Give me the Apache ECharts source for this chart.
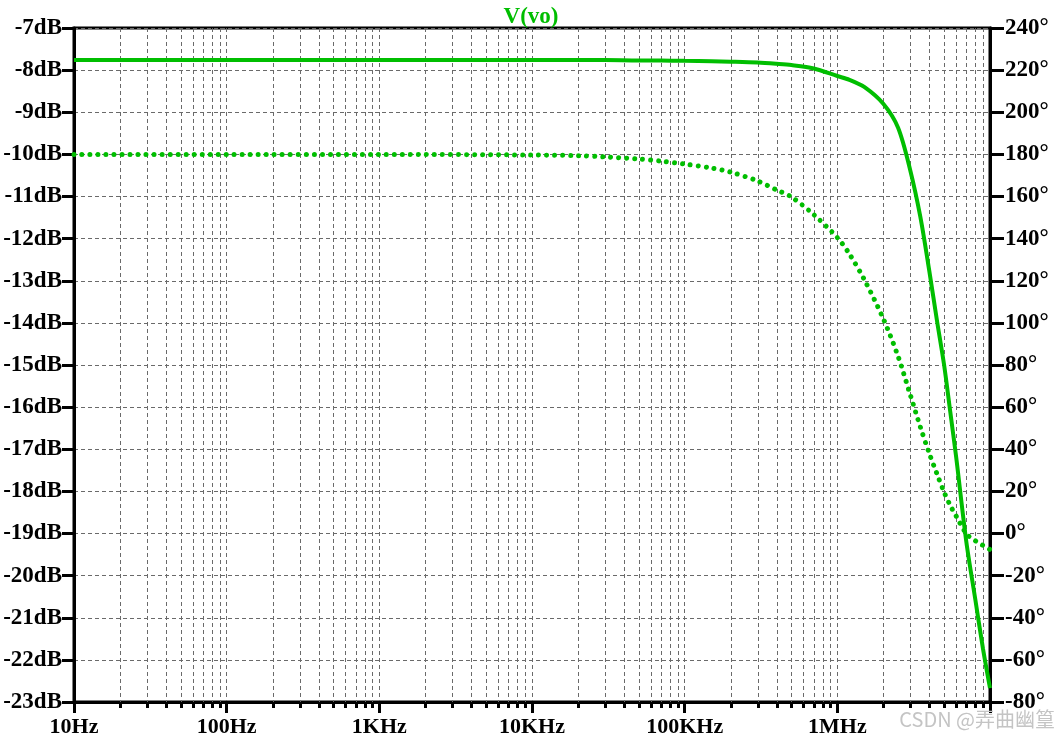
<!DOCTYPE html>
<html>
<head>
<meta charset="utf-8">
<script src="https://cdn.jsdelivr.net/npm/echarts@6/dist/echarts.min.js"></script>
<style>
html,body{margin:0;padding:0;background:#fff;}
#chart{width:1062px;height:743px;}
</style>
</head>
<body>
<div id="chart"></div>
<script>
// ---- data ----
const titleText = 'V(vo)';
const freqHz = [10, 100, 1000, 10000, 20000, 30000, 50000, 70000, 100000, 150000, 200000, 300000, 400000, 500000, 700000, 1000000, 1200000, 1500000, 2000000, 2500000, 3000000, 3500000, 4000000, 4500000, 5000000, 5500000, 6000000, 7000000, 8000000, 9000000, 10000000];
const magDb = [-7.76, -7.76, -7.76, -7.76, -7.76, -7.76, -7.77, -7.77, -7.78, -7.79, -7.80, -7.82, -7.85, -7.88, -7.96, -8.14, -8.23, -8.40, -8.80, -9.37, -10.37, -11.49, -12.76, -13.96, -14.99, -16.13, -17.18, -19.20, -20.55, -21.74, -22.67];
const phaseDeg = [180, 180, 180, 179.7, 179.4, 178.8, 177.8, 176.8, 175.4, 173.5, 171.6, 167.4, 163.1, 159.8, 151.4, 140.5, 132.7, 120.6, 102.0, 84.1, 66.0, 50.5, 38.1, 28.2, 19.7, 13.2, 8.3, -0.1, -3.4, -5.7, -7.6];
const xTickLabels = ['10Hz', '100Hz', '1KHz', '10KHz', '100KHz', '1MHz', ''];
const minorGridHz = [
  20,30,40,50,60,70,80,90,
  200,300,400,500,600,700,800,900,
  2000,3000,4000,5000,6000,7000,8000,9000,
  20000,30000,40000,50000,60000,70000,80000,90000,
  200000,300000,400000,500000,600000,700000,800000,900000,
  2000000,3000000,4000000,5000000,6000000,7000000,8000000,9000000
];
const watermark = 'CSDN @弄曲幽篁';

// ---- chart ----
const green = '#00BE00';
const font = "'Liberation Serif', 'Times New Roman', serif";
const gridDash = {color: '#6a6a6a', width: 1, type: [4, 3]};
const chart = echarts.init(document.getElementById('chart'), null, {renderer: 'canvas'});

const magData = freqHz.map((f, i) => [f, magDb[i]]);
const phaseData = freqHz.map((f, i) => [f, phaseDeg[i]]);

chart.setOption({
  animation: false,
  backgroundColor: '#fff',
  title: {
    text: titleText, left: 'center', top: 1,
    textStyle: {color: green, fontFamily: font, fontWeight: 'bold', fontSize: 23}
  },
  grid: {left: 74, right: 72, top: 28, bottom: 41, show: true, borderColor: '#000', borderWidth: 3, backgroundColor: 'transparent'},
  xAxis: {
    type: 'log', logBase: 10, min: 10, max: 10000000, splitNumber: 6,
    axisLine: {show: true, onZero: false, lineStyle: {color: '#000', width: 3}},
    axisTick: {show: true, inside: false, length: 11, lineStyle: {color: '#000', width: 3}},
    axisLabel: {
      margin: 14, color: '#000', fontFamily: font, fontWeight: 'bold', fontSize: 22,
      formatter: v => { const k = Math.round(Math.log10(v)) - 1; return xTickLabels[k] || ''; }
    },
    splitLine: {show: true, lineStyle: gridDash},
    minorTick: {show: false}
  },
  yAxis: [
    {
      type: 'value', min: -23, max: -7, interval: 1, position: 'left',
      axisLine: {show: true, onZero: false, lineStyle: {color: '#000', width: 3}},
      axisTick: {show: true, length: 12, lineStyle: {color: '#000', width: 3}},
      axisLabel: {margin: 12, color: '#000', fontFamily: font, fontWeight: 'bold', fontSize: 23, formatter: v => v + 'dB'},
      splitLine: {show: true, lineStyle: gridDash}
    },
    {
      type: 'value', min: -80, max: 240, interval: 20, position: 'right',
      axisLine: {show: true, onZero: false, lineStyle: {color: '#000', width: 3}},
      axisTick: {show: true, length: 14, lineStyle: {color: '#000', width: 3}},
      axisLabel: {margin: 15, color: '#000', fontFamily: font, fontWeight: 'bold', fontSize: 23, formatter: v => v + '°'},
      splitLine: {show: false}
    }
  ],
  graphic: [{
    type: 'text', right: 7, top: 709, z: 100,
    style: {text: watermark, fill: '#c4c4c4', font: "20px 'Noto Sans CJK SC', 'Noto Sans', sans-serif"}
  }],
  series: [
    {
      type: 'custom', name: 'minorGrid', silent: true, clip: false, z: 1,
      data: minorGridHz.map(f => [f, -23]),
      renderItem: (params, api) => {
        const cs = params.coordSys;
        const p = api.coord([api.value(0), -23]);
        const x = Math.round(p[0]) + 0.5;
        const yb = cs.y + cs.height;
        return {
          type: 'group',
          children: [
            {type: 'line', shape: {x1: x, y1: cs.y, x2: x, y2: yb}, style: {stroke: '#6a6a6a', lineWidth: 1, lineDash: [4, 3]}},
            {type: 'line', shape: {x1: x, y1: yb, x2: x, y2: yb + 6}, style: {stroke: '#000', lineWidth: 3}}
          ]
        };
      }
    },
    {
      type: 'line', name: 'mag', yAxisIndex: 0, data: magData, smooth: 0.3,
      showSymbol: false, z: 5,
      lineStyle: {color: green, width: 4}
    },
    {
      type: 'line', name: 'phase', yAxisIndex: 1, data: phaseData, smooth: 0.3,
      showSymbol: false, z: 5,
      lineStyle: {color: green, width: 5, type: [0.01, 8], cap: 'round'}
    }
  ]
});
</script>
</body>
</html>
